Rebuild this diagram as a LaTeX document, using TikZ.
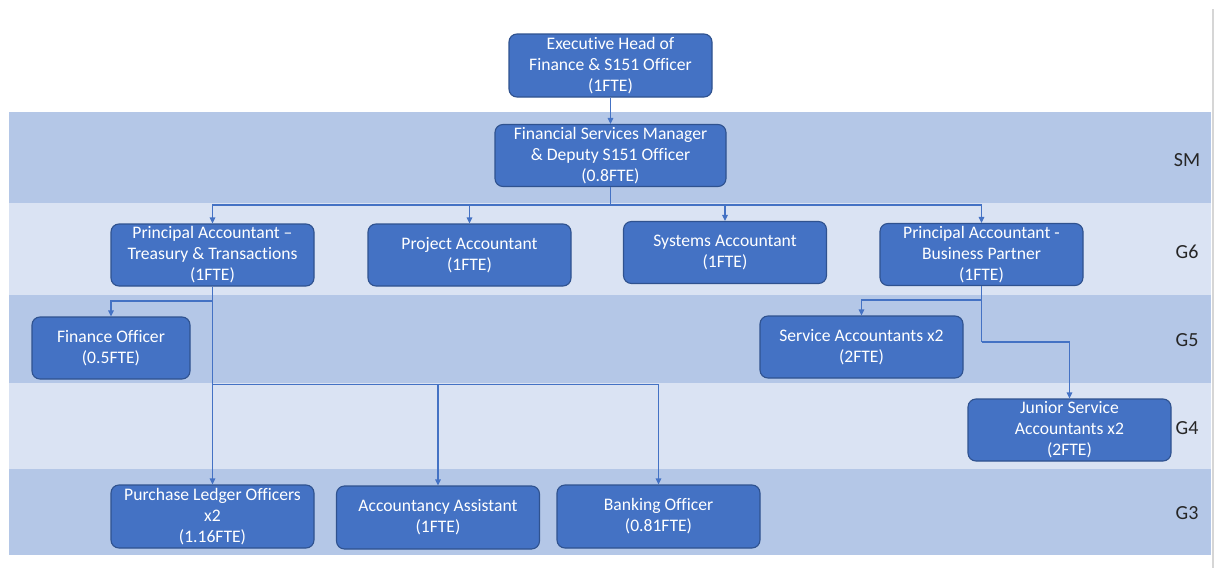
\documentclass[tikz,border=0pt]{standalone}
\usepackage{fontspec}
\setmainfont{Carlito}[Ligatures=NoCommon]
\usetikzlibrary{arrows.meta}
\definecolor{nodefill}{HTML}{4472C4}
\definecolor{nodeline}{HTML}{2F528F}
\definecolor{banddark}{HTML}{B4C7E7}
\definecolor{bandlight}{HTML}{DAE3F3}
\definecolor{edgegray}{HTML}{D6D6D6}
\begin{document}
\begin{tikzpicture}[x=1pt,y=-1pt,
  box/.style={draw=nodeline, line width=1.1pt, fill=nodefill, rounded corners=8pt,
    text=white, font=\fontsize{17.6}{21}\selectfont, align=center, inner sep=0pt,
    minimum width=203pt, minimum height=62pt},
  link/.style={draw=nodefill, line width=1.1pt, -{Triangle[length=6pt,width=5.5pt]}},
  plain/.style={draw=nodefill, line width=1.1pt},
  grade/.style={font=\fontsize{20}{22}\selectfont, text=black!85, inner sep=0pt}]
\useasboundingbox (0,0) rectangle (1219,568);
\fill[white] (0,0) rectangle (1219,568);
% bands
\fill[banddark]  (9,112) rectangle (1211,203);
\fill[bandlight] (9,203) rectangle (1211,295);
\fill[banddark]  (9,295) rectangle (1211,383);
\fill[bandlight] (9,383) rectangle (1211,469);
\fill[banddark]  (9,469) rectangle (1211,555);
\draw[edgegray, line width=2pt] (1212.5,9) -- (1212.5,568);
% grade labels
\node[grade] (lsm) at (1187,160) {SM};
\node[grade] (lg6) at (1187,252) {G6};
\node[grade] (lg5) at (1187,340) {G5};
\node[grade] (lg4) at (1187,428) {G4};
\node[grade] (lg3) at (1187,513) {G3};
% nodes
\node[box, minimum height=63pt] (exec) at (610.5,65.5) {Executive Head of\\Finance \& S151 Officer\\(1FTE)};
\node[box, minimum width=231pt] (fsm) at (610.5,155.5) {Financial Services Manager\\\& Deputy S151 Officer\\(0.8FTE)};
\node[box] (patt) at (212.5,255) {Principal Accountant –\\Treasury \& Transactions\\(1FTE)};
\node[box] (pa) at (469.5,255) {Project Accountant\\(1FTE)};
\node[box] (sa) at (725,252.5) {Systems Accountant\\(1FTE)};
\node[box] (pabp) at (981.5,254.5) {Principal Accountant -\\Business Partner\\(1FTE)};
\node[box, minimum width=158pt] (fo) at (111,348) {Finance Officer\\(0.5FTE)};
\node[box] (sac) at (861.5,347) {Service Accountants x2\\(2FTE)};
\node[box] (jsa) at (1069.5,430) {Junior Service\\Accountants x2\\(2FTE)};
\node[box, minimum height=63pt] (pl) at (212.5,516.5) {Purchase Ledger Officers\\x2\\(1.16FTE)};
\node[box, minimum height=63pt] (aa) at (438,517.5) {Accountancy Assistant\\(1FTE)};
\node[box, minimum height=63pt] (bo) at (658.5,516.5) {Banking Officer\\(0.81FTE)};
% connectors
\draw[link] (exec.south) -- (fsm.north);
\coordinate (b1) at (610.5,205);
\draw[plain] (fsm.south) -- (b1);
\draw[link] (b1) -| (patt.north);
\draw[link] (b1) -| (pa.north);
\draw[link] (b1) -| (sa.north);
\draw[link] (b1) -| (pabp.north);
\coordinate (t1) at (212.5,301);
\coordinate (t2) at (212.5,384.5);
\draw[link] (patt.south) -- (pl.north);
\draw[link] (t1) -| (fo.north);
\draw[link] (t2) -| (aa.north);
\draw[link] (t2) -| (bo.north);
\coordinate (p1) at (981.5,300);
\coordinate (p2) at (981.5,342);
\draw[plain] (pabp.south) -- (p2);
\draw[link] (p1) -| (sac.north);
\draw[link] (p2) -| (jsa.north);
\end{tikzpicture}
\end{document}
